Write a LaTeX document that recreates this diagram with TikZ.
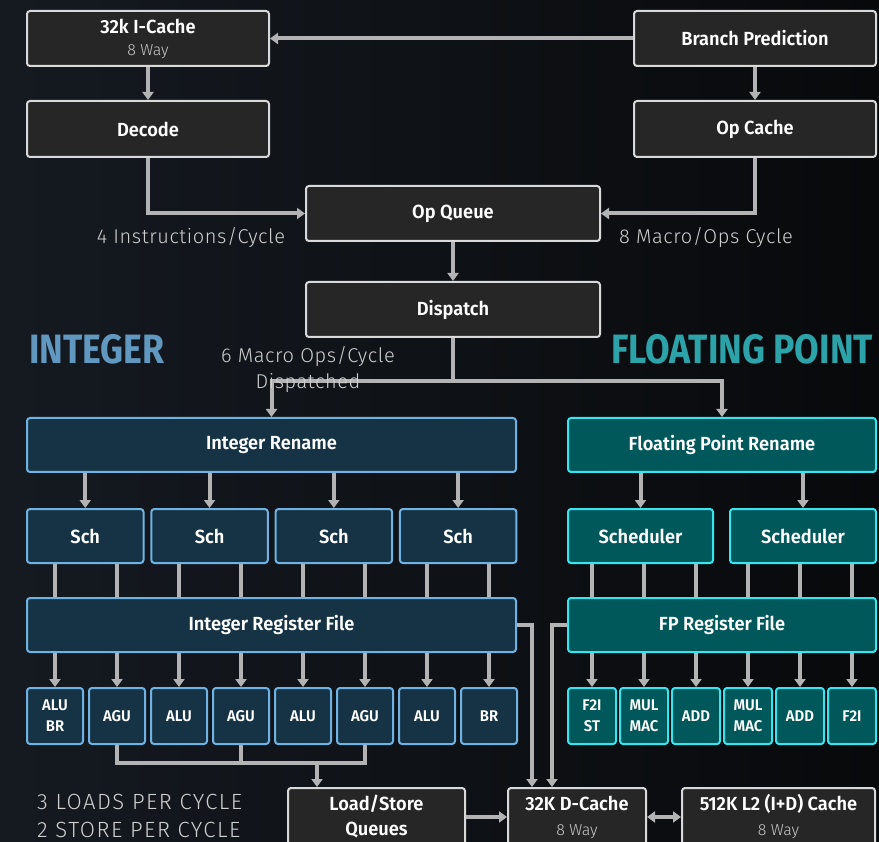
\documentclass[tikz,border=0pt]{standalone}
\usepackage{fontspec}
\setmainfont{Fira Sans}
\newfontfamily\boxfont[FakeStretch = 0.96]{Fira Sans SemiBold}
\newfontfamily\thinfont{Fira Sans Light}
\newfontfamily\headfont[FakeStretch = 0.87]{Fira Sans}
\usepackage{tikz}
\usetikzlibrary{arrows.meta}
\usetikzlibrary{backgrounds}
\definecolor{bgleft}{HTML}{151A21}
\definecolor{bgright}{HTML}{08090B}
\definecolor{boxfill}{HTML}{262626}
\definecolor{boxline}{HTML}{D9D9D9}
\definecolor{intfill}{HTML}{163345}
\definecolor{intline}{HTML}{70B3E3}
\definecolor{fpfill}{HTML}{00585B}
\definecolor{fpline}{HTML}{38E4EE}
\definecolor{wirecol}{HTML}{B3B3B3}
\definecolor{notecol}{HTML}{D0D0D0}
\definecolor{waycol}{HTML}{C8C8C8}
\definecolor{intcol}{HTML}{6198C0}
\definecolor{fpcol}{HTML}{2CA3A8}
\tikzset{
	>={Triangle[width = 11pt, length = 8pt]},
	dark/.style = {draw = boxline, fill = boxfill, rounded corners = 3pt, line width = 2pt, inner sep = 0pt, align = center, text = white, font = {\boxfont\fontsize{19}{22}\selectfont}},
	intb/.style = {dark, draw = intline, fill = intfill},
	fpb/.style = {dark, draw = fpline, fill = fpfill},
	intu/.style = {intb, font = {\boxfont\fontsize{15.5}{21}\selectfont}},
	fpu/.style = {fpb, font = {\boxfont\fontsize{15.5}{21}\selectfont}},
	wire/.style = {draw = wirecol, line width = 4pt},
	flow/.style = {wire, ->},
	both/.style = {wire, <->},
	note/.style = {text = notecol, inner sep = 0pt, align = center, font = {\thinfont\fontsize{20}{26}\selectfont\addfontfeature{LetterSpace = 3}}},
	head/.style = {inner sep = 0pt, font = {\headfont\bfseries\fontsize{41}{42}\selectfont}}
}
\newcommand{\waysub}{\thinfont\fontsize{16}{18}\selectfont\color{waycol}}
\newcommand{\blk}[7]{
	\node [#1, minimum width = {(#5)-(#3)}, minimum height = {(#6)-(#4)}] (#2) at ({((#3)+(#5))/2},{((#4)+(#6))/2}) {#7};
}

\begin{document}
\begin{tikzpicture}[x = 1pt, y = -1pt]
\useasboundingbox (0,0) rectangle (879,842);
\begin{scope}[on background layer]
	\shade [left color = bgleft, right color = bgright] (0,0) rectangle (879,842);
\end{scope}

\blk{dark}{icache}{27}{11}{269}{66}{32k I-Cache\\{\waysub 8 Way}}
\blk{dark}{bpred}{634}{11}{876}{66}{Branch Prediction}
\blk{dark}{decode}{27}{101}{269}{157}{Decode}
\blk{dark}{opcache}{634}{101}{876}{157}{Op Cache}
\blk{dark}{opq}{306}{186}{600}{241}{Op Queue}
\blk{dark}{dispatch}{306}{282}{600}{337}{Dispatch}

\node [note] (instr) at (191,238) {4 Instructions/Cycle};
\node [note] (macro) at (706,238) {8 Macro/Ops Cycle};
\node [head, text = intcol] (inttitle) at (97,349) {INTEGER};
\node [head, text = fpcol] (fptitle) at (742,349) {FLOATING POINT};

\blk{intb}{irename}{27}{418}{516}{472}{Integer Rename}
\blk{fpb}{frename}{568}{418}{876}{472}{Floating Point Rename}
\foreach \k in {1,...,4}{
	\blk{intb}{sch\k}{27+124.3*(\k-1)}{509}{143.5+124.3*(\k-1)}{563}{Sch}
}
\blk{fpb}{fsch1}{568}{509}{713}{563}{Scheduler}
\blk{fpb}{fsch2}{730}{509}{876}{563}{Scheduler}
\blk{intb}{irf}{27}{598}{516}{652}{Integer Register File}
\blk{fpb}{frf}{568}{598}{876}{652}{FP Register File}
\foreach \lab [count = \j] in {{ALU\\BR},AGU,ALU,AGU,ALU,AGU,ALU,BR}{
	\blk{intu}{iu\j}{27+62*(\j-1)}{688}{83+62*(\j-1)}{744}{\lab}
}
\foreach \lab [count = \j] in {{F2I\\ST},{MUL\\MAC},ADD,{MUL\\MAC},ADD,F2I}{
	\blk{fpu}{fu\j}{568+52*(\j-1)}{688}{616+52*(\j-1)}{744}{\lab}
}

\blk{dark}{lsq}{288}{788}{465}{846}{Load/Store\\[3pt]Queues}
\blk{dark}{dcache}{508}{788}{646}{846}{32K D-Cache\\[3pt]{\waysub 8 Way}}
\blk{dark}{ltwo}{682}{788}{875}{846}{512K L2 (I+D) Cache\\[3pt]{\waysub 8 Way}}
\node [note, align = left, anchor = west, font = {\thinfont\fontsize{22}{28}\selectfont\addfontfeature{LetterSpace = 7}}] (ldst) at (37,816) {3 LOADS PER CYCLE\\2 STORE PER CYCLE};

\begin{scope}[on background layer]
	\draw [flow] (bpred) -- (icache);
	\draw [flow] (icache) -- (decode);
	\draw [flow] (bpred) -- (opcache);
	\draw [flow] (decode.south) |- (opq.west);
	\draw [flow] (opcache.south) |- (opq.east);
	\draw [flow] (opq) -- (dispatch);
	\draw [flow] (dispatch.south) -- ++(0,43) coordinate (split) -| (irename.north);
	\draw [flow] (dispatch.south) -- (split) -| (frename.north);
	\foreach \k in {1,...,4}{
		\draw [flow] (irename.south -| sch\k.north) -- (sch\k.north);
	}
	\foreach \k in {1,2}{
		\draw [flow] (frename.south -| fsch\k.north) -- (fsch\k.north);
	}
	\foreach \j [evaluate = \j as \k using {int((\j+1)/2)}] in {1,...,8}{
		\draw [wire] (sch\k.south -| iu\j.north) -- (irf.north -| iu\j.north);
		\draw [flow] (irf.south -| iu\j.north) -- (iu\j.north);
	}
	\foreach \j [evaluate = \j as \k using {int((\j+2)/3)}] in {1,...,6}{
		\draw [wire] (fsch\k.south -| fu\j.north) -- (frf.north -| fu\j.north);
		\draw [flow] (frf.south -| fu\j.north) -- (fu\j.north);
	}
	\draw [wire] (iu2.south) -- ++(0,18) -| (iu6.south);
	\draw [wire] (iu4.south) -- ++(0,18);
	\coordinate (agubus) at (317,762);
	\draw [flow] (agubus) -- (agubus |- lsq.north);
	\draw [flow] (irf.east) -| ([xshift = -45]dcache.north);
	\draw [flow] (frf.west) -| ([xshift = -25]dcache.north);
	\draw [flow] (lsq) -- (dcache);
	\draw [both] (dcache) -- (ltwo);
\end{scope}
\node [note] (dispnote) at (308,370) {6 Macro Ops/Cycle\\Dispatched};
\end{tikzpicture}
\end{document}
